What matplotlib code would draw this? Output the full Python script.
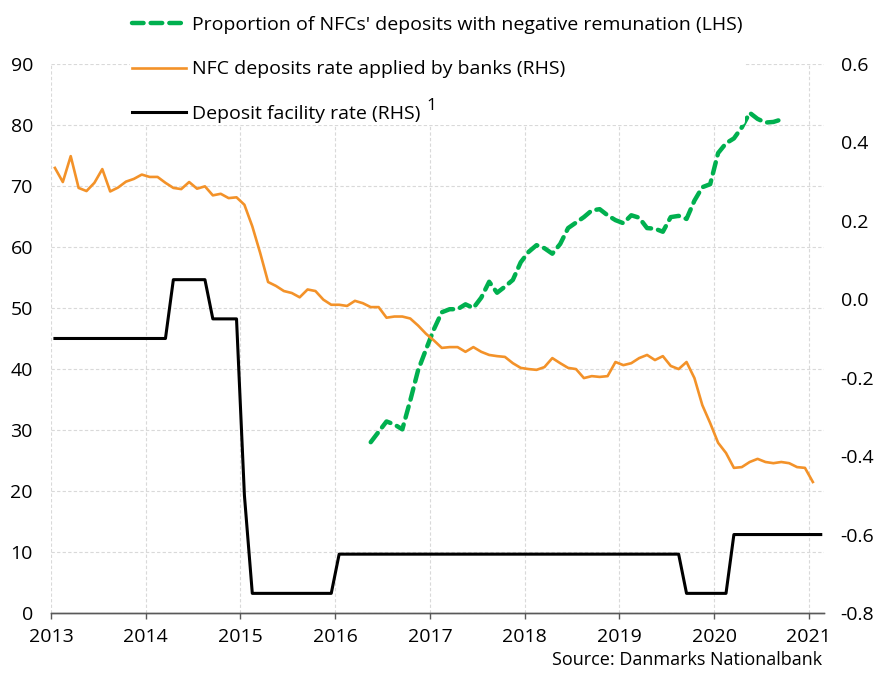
import matplotlib
matplotlib.use("Agg")
import matplotlib.pyplot as plt
import numpy as np

plt.rcParams['font.family'] = ['Open Sans', 'DejaVu Sans']

# ---- data (monthly) ----
# Proportion of NFCs' deposits with negative remuneration (LHS), May 2016 - Sep 2020
green_start = (2016, 5)
green_vals = [
    28.0, 29.7, 31.4, 30.9, 30.1, 34.8, 39.8, 43.2,
    46.5, 49.3, 49.8, 49.8, 50.6, 50.0, 51.7, 54.3, 52.5, 53.5, 54.6, 57.5,
    59.2, 60.3, 59.8, 58.9, 60.5, 63.1, 64.0, 64.9, 66.0, 66.2, 65.2, 64.4,
    63.9, 65.2, 64.8, 63.1, 63.0, 62.5, 64.9, 65.1, 64.6, 67.6, 69.8, 70.3,
    75.4, 77.0, 77.8, 79.6, 82.0, 81.0, 80.4, 80.5, 80.9,
]

# NFC deposits rate applied by banks (RHS), Jan 2013 - Jan 2021
orange_start = (2013, 1)
orange_vals = [
    0.335, 0.299, 0.365, 0.284, 0.276, 0.297, 0.332, 0.275, 0.285, 0.300, 0.307, 0.318,
    0.312, 0.312, 0.297, 0.284, 0.281, 0.299, 0.282, 0.288, 0.265, 0.269, 0.258, 0.260,
    0.241, 0.186, 0.118, 0.044, 0.034, 0.021, 0.016, 0.005, 0.025, 0.021, -0.001, -0.014,
    -0.014, -0.017, -0.004, -0.010, -0.020, -0.020, -0.047, -0.044, -0.044, -0.049, -0.067, -0.088,
    -0.105, -0.124, -0.122, -0.122, -0.134, -0.122, -0.134, -0.142, -0.145, -0.147, -0.163, -0.175,
    -0.178, -0.180, -0.173, -0.150, -0.163, -0.175, -0.178, -0.201, -0.196, -0.198, -0.196, -0.160,
    -0.168, -0.163, -0.150, -0.142, -0.155, -0.145, -0.170, -0.178, -0.160, -0.201, -0.270, -0.316,
    -0.366, -0.392, -0.430, -0.428, -0.415, -0.407, -0.415, -0.418, -0.415, -0.418, -0.428, -0.430,
    -0.466,
]

# Deposit facility rate (RHS), Jan 2013 - Feb 2021
black_start = (2013, 1)
black_vals = [
    -0.10, -0.10, -0.10, -0.10, -0.10, -0.10, -0.10, -0.10, -0.10, -0.10, -0.10, -0.10,
    -0.10, -0.10, -0.10, 0.05, 0.05, 0.05, 0.05, 0.05, -0.05, -0.05, -0.05, -0.05,
    -0.50, -0.75, -0.75, -0.75, -0.75, -0.75, -0.75, -0.75, -0.75, -0.75, -0.75, -0.75,
    -0.65, -0.65, -0.65, -0.65, -0.65, -0.65, -0.65, -0.65, -0.65, -0.65, -0.65, -0.65,
    -0.65, -0.65, -0.65, -0.65, -0.65, -0.65, -0.65, -0.65, -0.65, -0.65, -0.65, -0.65,
    -0.65, -0.65, -0.65, -0.65, -0.65, -0.65, -0.65, -0.65, -0.65, -0.65, -0.65, -0.65,
    -0.65, -0.65, -0.65, -0.65, -0.65, -0.65, -0.65, -0.65, -0.75, -0.75, -0.75, -0.75,
    -0.75, -0.75, -0.60, -0.60, -0.60, -0.60, -0.60, -0.60, -0.60, -0.60, -0.60, -0.60,
    -0.60, -0.60,
]

year_ticks = [2013, 2014, 2015, 2016, 2017, 2018, 2019, 2020, 2021]
left_ticks = [0, 10, 20, 30, 40, 50, 60, 70, 80, 90]
right_ticks = [-0.8, -0.6, -0.4, -0.2, 0.0, 0.2, 0.4, 0.6]

labels = ["Proportion of NFCs' deposits with negative remunation (LHS)",
          "NFC deposits rate applied by banks (RHS)",
          "Deposit facility rate (RHS)"]
footnote_mark = "1"
source = "Source: Danmarks Nationalbank"


def month_axis(start, n):
    y0, m0 = start
    idx = np.arange(n) + (m0 - 1)
    return y0 + (idx + 0.5) / 12.0


GREEN = '#00B04F'
ORANGE = '#F39229'
FS = 14

fig = plt.figure(figsize=(8.79, 6.73), dpi=100)
ax = fig.add_axes([0.058, 0.0892, 0.8795, 0.8157])
ax2 = ax.twinx()

lg, = ax.plot(month_axis(green_start, len(green_vals)), green_vals, color=GREEN,
              lw=3.2, ls=(0, (2.6, 1.6)), dash_capstyle='round', solid_capstyle='round')
lo, = ax2.plot(month_axis(orange_start, len(orange_vals)), orange_vals, color=ORANGE, lw=1.9)
lb, = ax2.plot(month_axis(black_start, len(black_vals)), black_vals, color='black', lw=2.2)

ax.set_xlim(2013.0, 2021.16)
ax.set_ylim(0, 90)
ax2.set_ylim(-0.8, 0.6)
ax.set_xticks(year_ticks)
ax.set_xticklabels([str(y) for y in year_ticks])
ax.set_yticks(left_ticks)
ax.set_yticklabels([str(v) for v in left_ticks])
ax2.set_yticks(right_ticks)
ax2.set_yticklabels([f"{v:.1f}" for v in right_ticks])

ax.grid(True, color='#d9d9d9', ls=(0, (3, 2)), lw=0.8)
ax.set_axisbelow(True)
for a in (ax, ax2):
    for s in ('top', 'left', 'right'):
        a.spines[s].set_visible(False)
    a.spines['bottom'].set_color('#595959')
    a.spines['bottom'].set_linewidth(1.0)
ax.tick_params(axis='x', direction='out', length=4, width=1, color='#595959',
               labelsize=FS, pad=7, labelcolor='black')
ax.tick_params(axis='y', length=0, labelsize=FS, pad=13)
ax2.tick_params(axis='y', length=0, labelsize=FS, pad=12)

leg = fig.legend([lg, lo, lb], labels, loc='upper left', bbox_to_anchor=(0.1478, 0.979),
                 frameon=True, fontsize=FS, handlelength=2.8, handletextpad=0.3,
                 labelspacing=1.35, borderpad=0.1, borderaxespad=0)
leg.get_frame().set_facecolor('white')
leg.get_frame().set_edgecolor('none')
leg.get_frame().set_alpha(1)

fig.text(0.935, 0.0065, source, ha='right', va='bottom', fontsize=13)

# footnote mark after the third legend entry
fig.canvas.draw()
bb = leg.get_texts()[2].get_window_extent()
fig.text(bb.x1 + 6, bb.y1 + 7, footnote_mark, ha='left', va='top', fontsize=12.5,
         transform=None, zorder=20)

fig.savefig('out.png', dpi=100)
